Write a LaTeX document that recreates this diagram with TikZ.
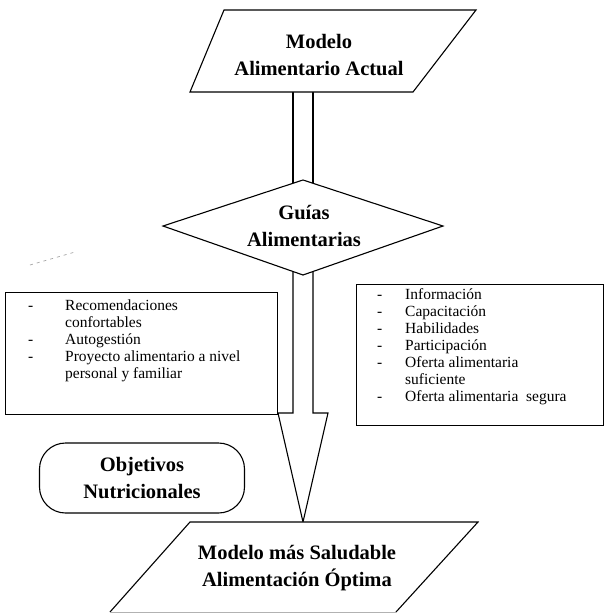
\documentclass[tikz,border=0pt]{standalone}
\usepackage{fontspec}
\setmainfont{Liberation Serif}
\begin{document}
\begin{tikzpicture}[x=1pt,y=-1pt,
  title/.style={font=\fontsize{20.5}{26.5}\selectfont\bfseries, align=center, inner sep=0pt},
  body/.style={font=\fontsize{15.5}{17}\selectfont, inner sep=0pt, anchor=north west},
  shp/.style={draw=black, fill=white, line width=1.1pt, line join=miter},
  boxline/.style={draw=black, line width=1.1pt}]
\useasboundingbox (0,0) rectangle (611,614);

% coordinates
\coordinate (ta) at (224,10);  \coordinate (tb) at (476,10);
\coordinate (tc) at (413,92);  \coordinate (td) at (190,92);
\coordinate (dl) at (163,226); \coordinate (dt) at (303,180);
\coordinate (dr) at (443,226); \coordinate (db) at (303,275);
\coordinate (ba) at (190,522); \coordinate (bb) at (478,522);
\coordinate (bc) at (396,612); \coordinate (bd) at (110,612);

% shaft from top to diamond
\draw[shp] (293,92) -- (293,200) -- (313,200) -- (313,92);
% arrow from diamond to bottom
\draw[shp] (293,250) -- (293,413) -- (278,413) -- (303,522) -- (328,413) -- (313,413) -- (313,250);

% top parallelogram
\draw[shp] (ta) -- (tb) -- (tc) -- (td) -- cycle;
\node[title] (top) at (319,55) {Modelo\\Alimentario Actual};

% diamond
\draw[shp] (dl) -- (dt) -- (dr) -- (db) -- cycle;
\node[title] (guia) at (304,226) {Guías\\Alimentarias};

% bottom parallelogram
\fill[white] (ba) -- (bb) -- (bc) -- (bd) -- cycle;
\draw[line width=1.1pt] (bd) -- (ba) -- (bb) -- (bc);
\draw[line width=0.8pt, gray!60] (bc) -- (bd);
\node[title] (bot) at (297,568) {Modelo más Saludable\\Alimentación Óptima};

% left list box
\node[boxline, minimum width=272pt, minimum height=122pt, anchor=north west, inner sep=0pt] (lbox) at (5,292) {};
\node[body] (ltext) at (28,298) {\begin{tabular}{@{}p{37pt}@{}l@{}}
-& Recomendaciones\\
 & confortables\\
-& Autogestión\\
-& Proyecto alimentario a nivel\\
 & personal y familiar
\end{tabular}};

% right list box
\node[boxline, minimum width=247pt, minimum height=141pt, anchor=north west, inner sep=0pt] (rbox) at (356,284) {};
\node[body] (rtext) at (377,287) {\begin{tabular}{@{}p{28pt}@{}l@{}}
-& Información\\
-& Capacitación\\
-& Habilidades\\
-& Participación\\
-& Oferta alimentaria\\
 & suficiente\\
-& Oferta alimentaria\ \ segura
\end{tabular}};

% objetivos
\node[draw=black, line width=1.1pt, rounded corners=26pt, minimum width=205pt, minimum height=70pt, title, inner sep=0pt] (obj) at (142,478) {Objetivos\\Nutricionales};

% stray mark
\draw[gray!70, line width=0.7pt, dash pattern=on 3pt off 4pt] (30,265) -- (75,252);
\end{tikzpicture}
\end{document}
